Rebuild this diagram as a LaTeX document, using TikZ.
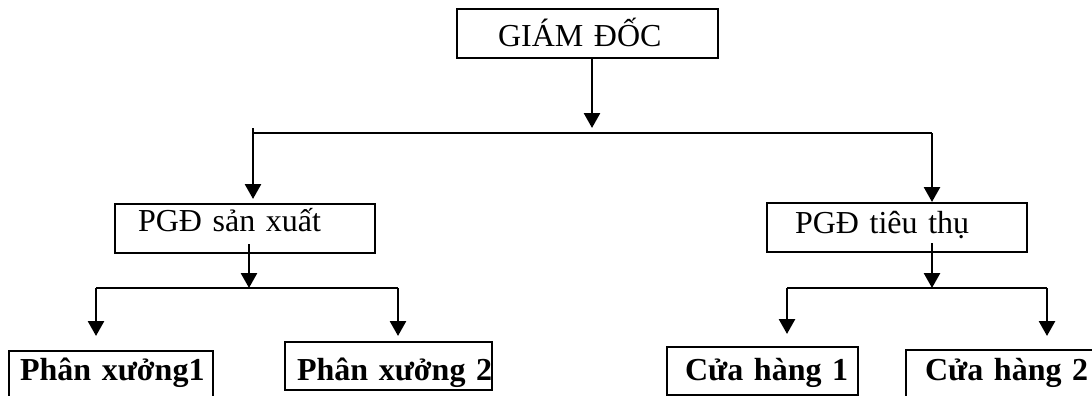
\documentclass[tikz,border=0pt]{standalone}
\usepackage{fontspec}
\setmainfont{Liberation Serif}
\usetikzlibrary{positioning}
\usetikzlibrary{calc}
\usetikzlibrary{arrows.meta}
\tikzset{
    unit/.style = {rectangle,draw,line width=2pt,inner ysep=0pt,align=left,
        font=\fontsize{32}{38}\selectfont},
    bunit/.style = {unit,font=\fontsize{32}{38}\selectfont\bfseries},
    dims/.style n args = {4}{text width=#1pt,inner xsep=#2pt,text height=#3pt,text depth=#4pt},
    link/.style = {line width=2.7pt},
    arr/.style = {link,-{Triangle[length=15pt,width=16pt]}}}

\begin{document}
\begin{tikzpicture}[x=1pt,y=-1pt]
    \clip (0,0) rectangle (1092,396);
    \path (587.5,33.8) node[unit,dims={179}{41}{37.4}{11.6}] (GD) {GIÁM ĐỐC}
        (245,228.5) node[unit,dims={214}{23}{27.7}{21.3}] (PSX) {PGĐ sản xuất}
        (897,227.5) node[unit,dims={204}{28}{30.3}{18.7}] (PTT) {PGĐ tiêu thụ}
        (111,375) node[bunit,dims={182}{11}{29}{19}] (PX1) {Phân~xưởng1}
        (388.5,366) node[bunit,dims={183}{12}{38}{10}] (PX2) {Phân~xưởng~2}
        (762.5,371) node[bunit,dims={155}{18}{33}{15}] (CH1) {Cửa~hàng~1}
        (1003.5,374) node[bunit,dims={157}{19}{30}{18}] (CH2) {Cửa~hàng~2};
    \coordinate (topin) at (592,128);
    \coordinate (topbusL) at (253,133);
    \coordinate (topbusR) at (932,133);
    \coordinate (sxin) at (249,288);
    \coordinate (sxbusL) at (96,288);
    \coordinate (sxbusR) at (398,288);
    \coordinate (ttin) at (932,288);
    \coordinate (ttbusL) at (787,288);
    \coordinate (ttbusR) at (1047,288);
    % giam doc -> hai pho giam doc
    \draw[arr] (GD.south -| topin) -- (topin);
    \draw[link] (topbusL) -- (topbusR);
    \draw[arr,shorten >=4pt] ($(topbusL)+(0,-5)$) -- (PSX.north -| topbusL);
    \draw[arr] (topbusR) -- (PTT.north -| topbusR);
    % san xuat
    \draw[arr] ($(PSX.south -| sxin)+(0,-10)$) -- (sxin);
    \draw[link] (sxbusL) -- (sxbusR);
    \draw[arr,shorten >=14pt] (sxbusL) -- (PX1.north -| sxbusL);
    \draw[arr,shorten >=5pt] (sxbusR) -- (PX2.north -| sxbusR);
    % tieu thu
    \draw[arr] ($(PTT.south -| ttin)+(0,-10)$) -- (ttin);
    \draw[link] (ttbusL) -- (ttbusR);
    \draw[arr,shorten >=12pt] (ttbusL) -- (CH1.north -| ttbusL);
    \draw[arr,shorten >=13pt] (ttbusR) -- (CH2.north -| ttbusR);
\end{tikzpicture}
\end{document}
